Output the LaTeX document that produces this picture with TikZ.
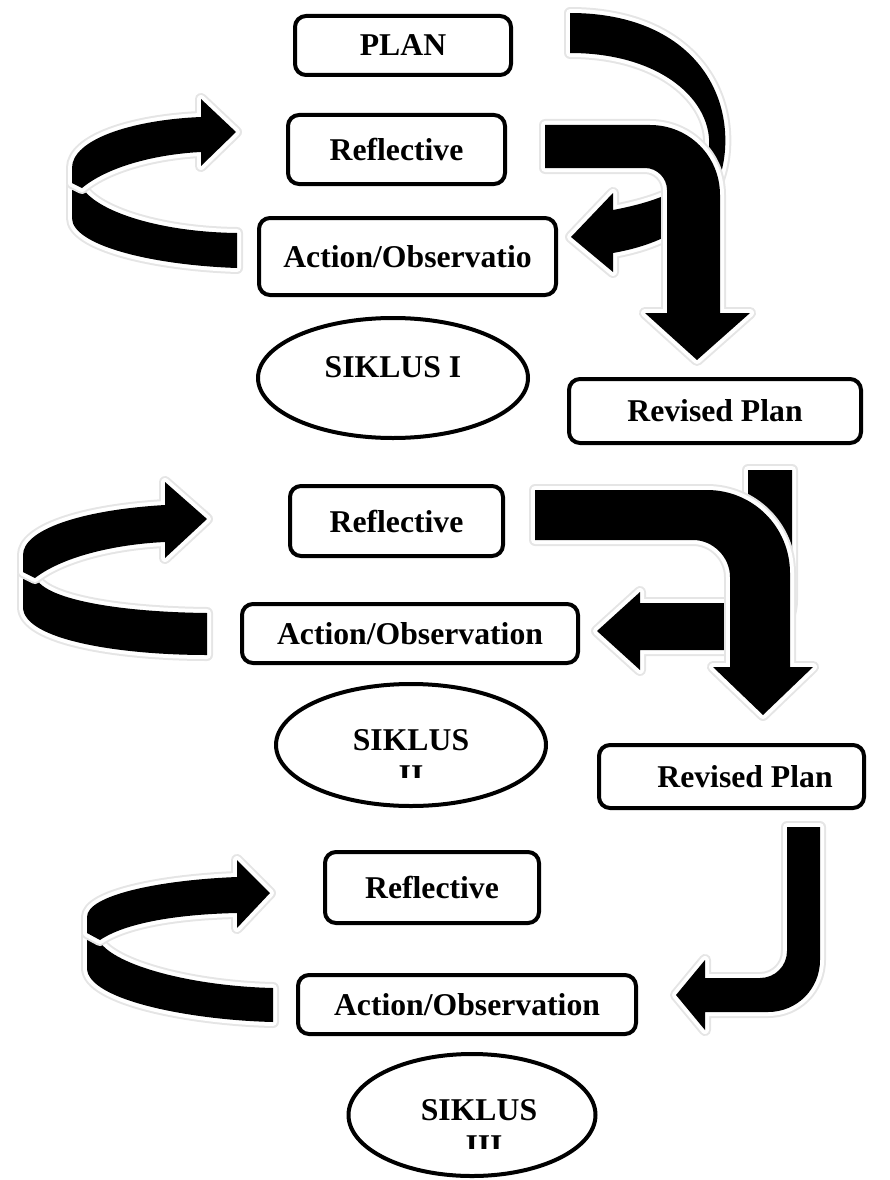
\documentclass[tikz,border=0pt]{standalone}
\usepackage{fontspec}
\setmainfont{Liberation Serif}
\usetikzlibrary{shapes.geometric}
\newcommand\diagfont{\fontsize{31.7}{38}\selectfont\bfseries}
% block arrow: soft halo, white rim, black body
\newcommand\blockarrow[1]{%
  \draw[arrowhalo] #1;
  \draw[arrowedge] #1;
  \fill[arrowbody] #1;}
\begin{document}
\begin{tikzpicture}[x=1pt,y=-1pt,
  arrowhalo/.style={draw=black!10, line width=12pt, line join=round},
  arrowedge/.style={draw=white, line width=8pt, line join=round},
  arrowbody/.style={fill=black},
  labelbox/.style={draw=black, line width=4pt, rounded corners=11pt, fill=white,
    align=center, font=\diagfont, inner sep=0pt},
  cyclering/.style={ellipse, draw=black, line width=4pt, inner sep=0pt, fill=white},
  cycletext/.style={font=\diagfont, inner sep=0pt, anchor=base}]
\useasboundingbox (0,0) rectangle (889,1180);

% ---------------- cycle I ----------------
% curved arrow from PLAN round to Action/Observation
\blockarrow{(570,13) .. controls (680,13) and (730,80) .. (725,150)
  .. controls (720,215) and (670,243) .. (613,253) -- (613,272) -- (571,237)
  -- (613,193) -- (613,210) .. controls (655,202) and (698,188) .. (708,155)
  .. controls (718,105) and (665,53) .. (570,53) -- cycle}
% bent arrow from Reflective down to Revised Plan
\blockarrow{(545,125) -- (650,125) .. controls (689,125) and (720,156) .. (720,195)
  -- (720,313) -- (750,313) -- (697,360) -- (645,313) -- (667,313) -- (667,190)
  .. controls (667,178) and (657,168) .. (645,168) -- (545,168) -- cycle}
% U-turn on the left: lower band, then upper band with head
\blockarrow{(72,186) -- (72,218) .. controls (72,245) and (150,265) .. (237,268)
  -- (237,233) .. controls (160,232) and (100,212) .. (84,190) -- cycle}
\blockarrow{(201,117) .. controls (130,120) and (72,140) .. (72,168) -- (72,183)
  -- (82,188) .. controls (110,165) and (160,154) .. (201,152) -- (201,166)
  -- (236,132) -- (201,99) -- cycle}

% ---------------- cycle II ----------------
\blockarrow{(748,470) -- (792,470) -- (792,600) .. controls (792,628) and (770,650) .. (742,650)
  -- (640,650) -- (640,670) -- (597,631) -- (640,592) -- (640,603) -- (725,603)
  .. controls (738,603) and (748,593) .. (748,580) -- cycle}
\blockarrow{(535,490) -- (707,490) .. controls (753,490) and (790,527) .. (790,573)
  -- (790,667) -- (813,667) -- (763,715) -- (713,667) -- (730,667) -- (730,577)
  .. controls (730,557) and (713,540) .. (693,540) -- (535,540) -- cycle}
\blockarrow{(23,575) -- (23,607) .. controls (23,640) and (120,655) .. (207,655)
  -- (207,613) .. controls (120,612) and (50,600) .. (37,580) -- cycle}
\blockarrow{(165,505) .. controls (80,510) and (23,530) .. (23,555) -- (23,572)
  -- (35,578) .. controls (65,555) and (120,544) .. (165,542) -- (165,558)
  -- (207,519) -- (165,482) -- cycle}

% ---------------- cycle III ----------------
\blockarrow{(787,827) -- (820,827) -- (820,960) .. controls (820,989) and (797,1012) .. (768,1012)
  -- (705,1012) -- (705,1030) -- (676,995) -- (705,960) -- (705,978) -- (760,978)
  .. controls (775,978) and (787,966) .. (787,951) -- cycle}
\blockarrow{(87,936) -- (87,968) .. controls (87,1000) and (190,1020) .. (273,1022)
  -- (273,988) .. controls (190,986) and (115,965) .. (100,942) -- cycle}
\blockarrow{(237,877) .. controls (160,880) and (87,895) .. (87,917) -- (87,933)
  -- (100,940) .. controls (130,920) and (190,914) .. (237,913) -- (237,928)
  -- (270,893) -- (237,860) -- cycle}

% ---------------- boxes ----------------
\node[labelbox, minimum width=216pt, minimum height=59pt] (plan)  at (403,45.5)  {PLAN};
\node[labelbox, minimum width=217pt, minimum height=69pt] (refl1) at (396.5,149.5) {Reflective};
\node[labelbox, minimum width=297pt, minimum height=77pt] (act1)  at (407.5,256.5) {Action/Observatio};
\node[labelbox, minimum width=292pt, minimum height=64pt] (rev1)  at (715,411)   {Revised Plan};
\node[labelbox, minimum width=213pt, minimum height=70pt] (refl2) at (396.5,521) {Reflective};
\node[labelbox, minimum width=336pt, minimum height=59pt] (act2)  at (410,633.5) {Action/Observation};
\node[labelbox, minimum width=265pt, minimum height=63pt] (rev2)  at (731.5,776.5) {};
\node[font=\diagfont, inner sep=0pt] (rev2txt) at (745,776.5) {Revised Plan};
\node[labelbox, minimum width=214pt, minimum height=71pt] (refl3) at (432,887.5) {Reflective};
\node[labelbox, minimum width=338pt, minimum height=59pt] (act3)  at (467,1004.5) {Action/Observation};

% ---------------- cycle labels ----------------
\node[cyclering, minimum width=270pt, minimum height=120pt] (cyc1) at (393,378) {};
\node[cycletext] (cyc1txt) at (393,377.5) {SIKLUS I};

\node[cyclering, minimum width=270pt, minimum height=122pt] (cyc2) at (411,745) {};
\node[cycletext] (cyc2txt) at (411,750.5) {SIKLUS};
\begin{scope}
  \clip (370,755) rectangle (450,777);
  \node[cycletext] (cyc2num) at (411,786) {II};
\end{scope}

\node[cyclering, minimum width=247pt, minimum height=122pt] (cyc3) at (472,1115) {};
\node[cycletext] (cyc3txt) at (479,1120.5) {SIKLUS};
\begin{scope}
  \clip (430,1125) rectangle (530,1148);
  \node[cycletext] (cyc3num) at (484,1156) {III};
\end{scope}
\end{tikzpicture}
\end{document}
